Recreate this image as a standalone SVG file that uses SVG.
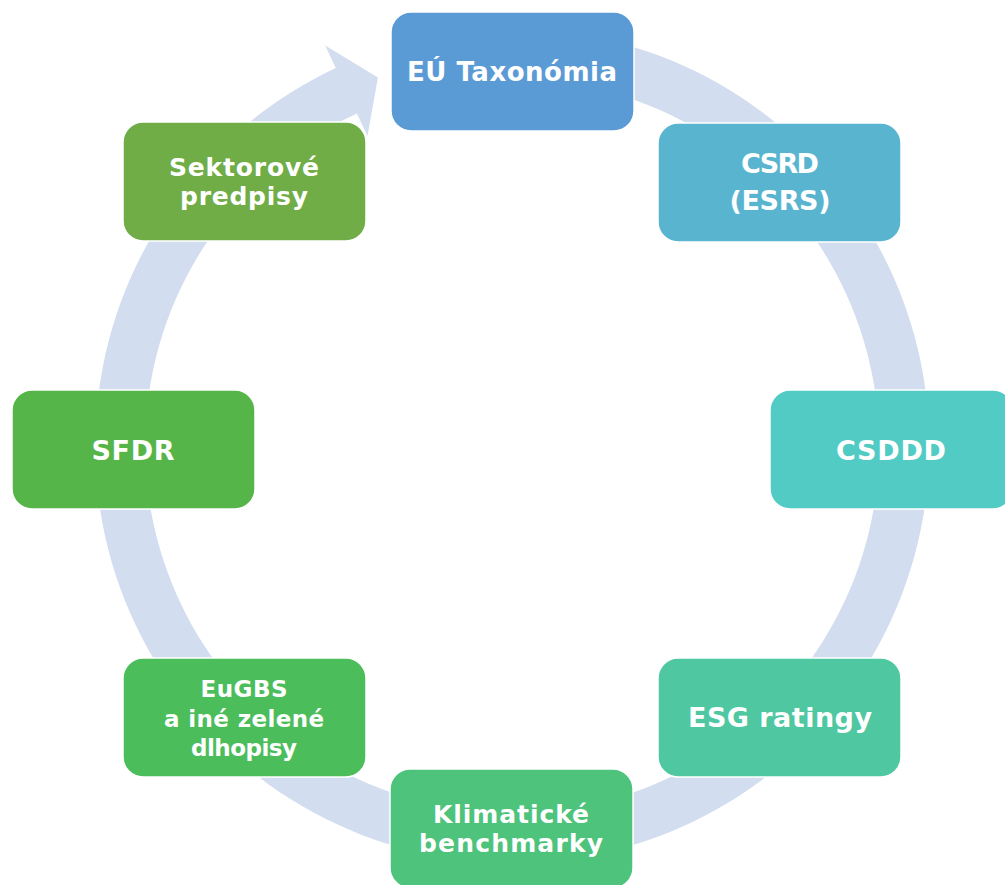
<svg xmlns="http://www.w3.org/2000/svg" width="1005" height="885" viewBox="0 0 1005 885">
  <style>
    .box { stroke: #ffffff; stroke-width: 1.5; }
    .lbl { font-family: "DejaVu Sans", Verdana, sans-serif; font-weight: bold; fill: #ffffff; text-anchor: middle; }
  </style>
  <rect width="1005" height="885" fill="#ffffff"/>

  <!-- circular block arrow running clockwise behind the nodes -->
  <g id="connectors">
    <path fill="#d2ddef" d="M425.3,38.1 A417,417 0 1 1 335.8,68.1 L325.2,45.4 L377.9,77.6 L367.5,136 L356.9,113.4 A367,367 0 1 0 435.7,87.0 Z"/>
  </g>

  <g id="node-taxonomia">
    <rect class="box" x="391" y="12" width="243" height="119" rx="20" fill="#5b9bd5"/>
    <text class="lbl" x="512" y="81" font-size="26" textLength="210" lengthAdjust="spacing">EÚ Taxonómia</text>
  </g>

  <g id="node-csrd">
    <rect class="box" x="658" y="123" width="243" height="119" rx="20" fill="#59b5cf"/>
    <text class="lbl" x="780" y="173" font-size="27" textLength="78" lengthAdjust="spacing">CSRD</text>
    <text class="lbl" x="780" y="210" font-size="27" textLength="101" lengthAdjust="spacing">(ESRS)</text>
  </g>

  <g id="node-csddd">
    <rect class="box" x="770" y="390" width="243" height="119" rx="20" fill="#53cbc5"/>
    <text class="lbl" x="891" y="460" font-size="27" textLength="110" lengthAdjust="spacing">CSDDD</text>
  </g>

  <g id="node-esg">
    <rect class="box" x="658" y="658" width="243" height="119" rx="20" fill="#4fc8a2"/>
    <text class="lbl" x="780" y="727" font-size="27" textLength="184" lengthAdjust="spacing">ESG ratingy</text>
  </g>

  <g id="node-benchmarky">
    <rect class="box" x="390" y="769" width="243" height="119" rx="20" fill="#4dc37c"/>
    <text class="lbl" x="511" y="823" font-size="25" textLength="156" lengthAdjust="spacing">Klimatické</text>
    <text class="lbl" x="511" y="852" font-size="25" textLength="184" lengthAdjust="spacing">benchmarky</text>
  </g>

  <g id="node-eugbs">
    <rect class="box" x="123" y="658" width="243" height="119" rx="20" fill="#4bbd5b"/>
    <text class="lbl" x="244" y="697" font-size="23" textLength="87" lengthAdjust="spacing">EuGBS</text>
    <text class="lbl" x="244" y="727" font-size="23" textLength="160" lengthAdjust="spacing">a iné zelené</text>
    <text class="lbl" x="244" y="756" font-size="23" textLength="106" lengthAdjust="spacing">dlhopisy</text>
  </g>

  <g id="node-sfdr">
    <rect class="box" x="12" y="390" width="243" height="119" rx="20" fill="#56b548"/>
    <text class="lbl" x="133" y="460" font-size="27" textLength="83" lengthAdjust="spacing">SFDR</text>
  </g>

  <g id="node-sektorove">
    <rect class="box" x="123" y="122" width="243" height="119" rx="20" fill="#70ad47"/>
    <text class="lbl" x="244" y="176" font-size="25" textLength="150" lengthAdjust="spacing">Sektorové</text>
    <text class="lbl" x="244" y="205" font-size="25" textLength="128" lengthAdjust="spacing">predpisy</text>
  </g>
</svg>
